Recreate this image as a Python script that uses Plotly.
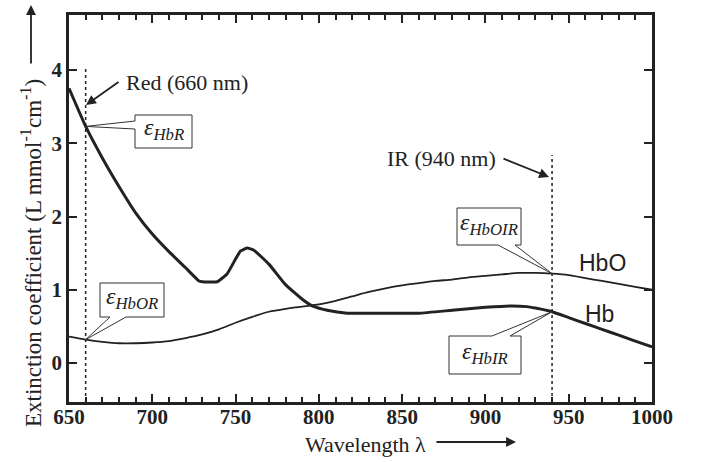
import numpy as np
import plotly.graph_objects as go

# ---- data ----
hb_wl = [650, 660, 670, 680, 690, 700, 710, 720, 728, 730, 739, 745, 750, 753, 757, 761,
         770, 780, 790, 796, 805, 817, 840, 860, 880, 900, 915, 925, 930, 940, 950, 960,
         970, 980, 990, 1000]
hb_val = [3.75, 3.23, 2.80, 2.41, 2.05, 1.76, 1.52, 1.30, 1.12, 1.11, 1.11, 1.22, 1.42, 1.53,
          1.57, 1.54, 1.35, 1.07, 0.87, 0.78, 0.72, 0.68, 0.68, 0.68, 0.72, 0.76, 0.78, 0.77,
          0.75, 0.70, 0.62, 0.54, 0.46, 0.38, 0.30, 0.22]
hbo_wl = [650, 660, 670, 680, 690, 700, 710, 720, 730, 740, 750, 760, 770, 780, 790, 800,
          810, 820, 830, 840, 850, 860, 870, 880, 890, 900, 910, 920, 930, 940, 950, 960,
          970, 980, 990, 1000]
hbo_val = [0.36, 0.32, 0.29, 0.27, 0.27, 0.28, 0.30, 0.34, 0.39, 0.46, 0.55, 0.63, 0.70,
           0.74, 0.77, 0.80, 0.85, 0.91, 0.97, 1.02, 1.06, 1.09, 1.12, 1.14, 1.17, 1.19,
           1.21, 1.23, 1.23, 1.22, 1.20, 1.16, 1.12, 1.08, 1.04, 1.00]
red_wl = 660
ir_wl = 940
x_ticks = [650, 700, 750, 800, 850, 900, 950, 1000]
y_ticks = [0, 1, 2, 3, 4]

# ---- geometry helpers (pixel -> axis/paper coordinates) ----
W, H = 701, 462
L, R, T, B = 69, 652, 15, 402
X0, X1 = 650, 1000
Y0, Y1 = -0.532, 4.751


def dx(px):
    return X0 + (px - L) / (R - L) * (X1 - X0)


def dy(py):
    return Y1 - (py - T) / (B - T) * (Y1 - Y0)


def pxx(px):
    return (px - L) / (R - L)


def pyy(py):
    return (B - py) / (B - T)


INK = "#222222"
SERIF = "Liberation Serif"
SANS = "Liberation Sans"

fig = go.Figure()
fig.add_trace(go.Scatter(x=hbo_wl, y=hbo_val, mode="lines", name="HbO",
                         line=dict(color=INK, width=1.8, shape="spline", smoothing=0.6),
                         showlegend=False, hoverinfo="skip"))
fig.add_trace(go.Scatter(x=hb_wl, y=hb_val, mode="lines", name="Hb",
                         line=dict(color=INK, width=3, shape="spline", smoothing=0.4),
                         showlegend=False, hoverinfo="skip"))

shapes = []
# dotted wavelength markers
shapes.append(dict(type="line", xref="x", yref="y", x0=red_wl, x1=red_wl, y0=Y0, y1=dy(68),
                   line=dict(color=INK, width=1.5, dash="dot")))
shapes.append(dict(type="line", xref="x", yref="y", x0=ir_wl, x1=ir_wl, y0=Y0, y1=dy(155),
                   line=dict(color=INK, width=1.5, dash="dot")))


def bubble(x0, x1, y0, y1, side, a, b, tip):
    """Speech-bubble path; box in px, wedge attached on a side at px a,b, tip in data coords."""
    tx, ty = tip
    pts = []
    if side == "left":
        pts = [(dx(x0), dy(y0)), (dx(x1), dy(y0)), (dx(x1), dy(y1)), (dx(x0), dy(y1)),
               (dx(x0), dy(b)), (tx, ty), (dx(x0), dy(a))]
    elif side == "bottom":
        pts = [(dx(x0), dy(y0)), (dx(x1), dy(y0)), (dx(x1), dy(y1)), (dx(b), dy(y1)),
               (tx, ty), (dx(a), dy(y1)), (dx(x0), dy(y1))]
    elif side == "top":
        pts = [(dx(x0), dy(y0)), (dx(a), dy(y0)), (tx, ty), (dx(b), dy(y0)),
               (dx(x1), dy(y0)), (dx(x1), dy(y1)), (dx(x0), dy(y1))]
    path = "M " + " L ".join(f"{p[0]:.3f},{p[1]:.4f}" for p in pts) + " Z"
    return dict(type="path", xref="x", yref="y", path=path, layer="above",
                fillcolor="white", line=dict(color="#333333", width=1))


hb_red = float(np.interp(red_wl, hb_wl, hb_val))
hbo_red = float(np.interp(red_wl, hbo_wl, hbo_val))
hb_ir = float(np.interp(ir_wl, hb_wl, hb_val))
hbo_ir = float(np.interp(ir_wl, hbo_wl, hbo_val))

shapes.append(bubble(135, 192, 115, 148, "left", 121, 129, (red_wl, hb_red)))
shapes.append(bubble(100, 164, 283, 317, "bottom", 110, 126, (red_wl, hbo_red)))
shapes.append(bubble(457, 521, 208, 245, "bottom", 498, 515, (ir_wl, hbo_ir)))
shapes.append(bubble(449, 521, 336, 374, "top", 492, 510, (ir_wl, hb_ir)))

ann = []


def eps(label, cx, cy):
    ann.append(dict(xref="x", yref="y", x=dx(cx), y=dy(cy), showarrow=False,
                    xanchor="center", yanchor="middle",
                    text=f"<i>ε<sub>{label}</sub></i>",
                    font=dict(family=SERIF, size=24, color=INK)))


eps("HbR", 164, 129)
eps("HbOR", 132, 298)
eps("HbOIR", 489, 224)
eps("HbIR", 485, 353)

# texts
ann.append(dict(xref="x", yref="y", x=dx(124), y=dy(82), xanchor="left", yanchor="middle",
                showarrow=False, text="Red (660 nm)",
                font=dict(family=SERIF, size=22, color=INK)))
ann.append(dict(xref="x", yref="y", x=dx(498), y=dy(158), xanchor="right", yanchor="middle",
                showarrow=False, text="IR (940 nm)",
                font=dict(family=SERIF, size=22, color=INK)))
ann.append(dict(xref="x", yref="y", x=dx(602), y=dy(263), showarrow=False,
                xanchor="center", yanchor="middle",
                text="HbO", font=dict(family=SANS, size=23, color=INK)))
ann.append(dict(xref="x", yref="y", x=dx(599), y=dy(314), showarrow=False,
                xanchor="center", yanchor="middle",
                text="Hb", font=dict(family=SANS, size=23, color=INK)))


# arrows
def arrow(px0, py0, px1, py1, ref="data"):
    if ref == "data":
        ann.append(dict(xref="x", yref="y", axref="x", ayref="y", x=dx(px1), y=dy(py1),
                        ax=dx(px0), ay=dy(py0), text="", showarrow=True, arrowhead=2,
                        arrowsize=1.1, arrowwidth=1.8, arrowcolor=INK))
    else:
        ann.append(dict(xref="paper", yref="paper", axref="pixel", ayref="pixel",
                        x=pxx(px1), y=pyy(py1), ax=px0 - px1, ay=py0 - py1, text="",
                        showarrow=True, arrowhead=2, arrowsize=1.1, arrowwidth=1.8,
                        arrowcolor=INK))


arrow(120, 81, 86, 105)
arrow(502, 158, 549, 177)
arrow(31, 65, 31, 5, ref="paper")
arrow(435, 442, 516, 442, ref="paper")

# axis titles
ann.append(dict(xref="paper", yref="paper", x=pxx(365), y=pyy(444), showarrow=False,
                xanchor="center", yanchor="middle",
                text="Wavelength λ", font=dict(family=SERIF, size=22, color=INK)))
ann.append(dict(xref="paper", yref="paper", x=pxx(31), y=pyy(253), showarrow=False,
                xanchor="center", yanchor="middle", textangle=-90,
                text="Extinction coefficient (L mmol<sup>-1</sup>cm<sup>-1</sup>)",
                font=dict(family=SERIF, size=23, color=INK)))

axis_common = dict(showline=True, linecolor=INK, linewidth=2.5, mirror="allticks",
                   ticks="inside", tickcolor=INK, tickwidth=2, ticklen=8,
                   showgrid=False, zeroline=False,
                   tickfont=dict(family=SERIF, size=21, color=INK, weight="bold"))

fig.update_layout(
    width=W, height=H,
    margin=dict(l=L, r=W - R, t=T, b=H - B),
    paper_bgcolor="white", plot_bgcolor="white",
    xaxis=dict(range=[X0, X1], tickvals=x_ticks, ticklabelstandoff=-6,
               minor=dict(dtick=10, ticks="inside", ticklen=5, tickcolor=INK, tickwidth=1.5),
               **axis_common),
    yaxis=dict(range=[Y0, Y1], tickvals=y_ticks, **axis_common),
    shapes=shapes, annotations=ann,
)

fig.write_html("out.html", config={"displayModeBar": False},
               post_script="document.body.style.margin='0';")
